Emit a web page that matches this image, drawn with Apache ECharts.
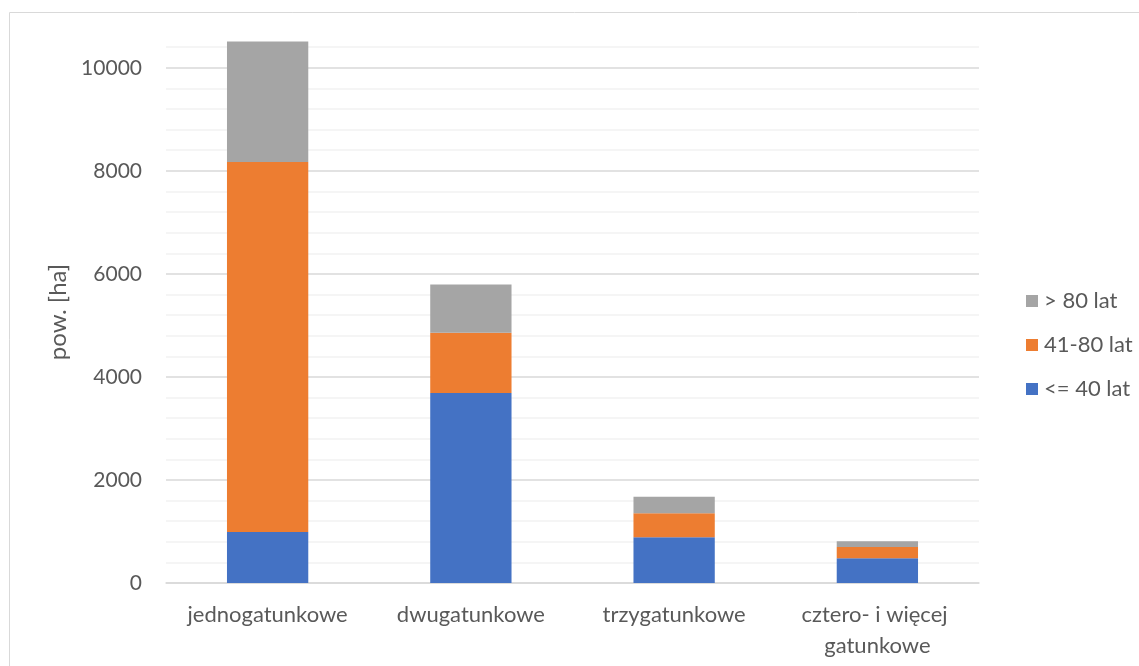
<!DOCTYPE html>
<html>
<head>
<meta charset="utf-8">
<script src="https://cdn.jsdelivr.net/npm/echarts@6/dist/echarts.min.js"></script>
<style>
  html, body { margin: 0; padding: 0; background: #fff; }
  #chart { width: 1139px; height: 666px; }
</style>
</head>
<body>
<div id="chart"></div>
<script>
const categories = ["jednogatunkowe", "dwugatunkowe", "trzygatunkowe", "cztero- i więcej gatunkowe"];
const young = [990, 3690, 890, 480];    // <= 40 lat
const middle = [7180, 1165, 465, 220];  // 41-80 lat
const old = [2340, 940, 320, 110];      // > 80 lat
const yMax = 10520;
const yStep = 400;
const labelStep = 2000;

const textColor = "#595959";
const font = "Lato";

// grid line colours: darker at labelled values, lighter between, none at the top edge
const tickCount = Math.floor(yMax / yStep) + 2;
const gridColors = [];
for (let i = 0; i < tickCount; i++) {
    if (i === tickCount - 1) gridColors.push("rgba(0,0,0,0)");
    else gridColors.push((i * yStep) % labelStep === 0 ? "#d9d9d9" : "#f2f2f2");
}

const chart = echarts.init(document.getElementById("chart"));
const option = {
    animation: false,
    textStyle: { fontFamily: font },
    graphic: [{
        type: "rect",
        shape: { x: 9.5, y: 12.5, width: 1300, height: 900 },
        style: { fill: "none", stroke: "#d9d9d9", lineWidth: 1 },
        silent: true
    }],
    grid: { left: 166, right: 160, top: 41, bottom: 83 },
    legend: {
        orient: "vertical",
        left: 1021,
        top: 285,
        itemWidth: 12,
        itemHeight: 12,
        itemGap: 22,
        icon: "rect",
        data: ["> 80 lat", "41-80 lat", "<= 40 lat"],
        textStyle: { color: textColor, fontSize: 22, fontFamily: font, padding: [0, 0, 0, 1] }
    },
    xAxis: {
        type: "category",
        data: categories,
        axisLine: { lineStyle: { color: "#d9d9d9", width: 1.5 } },
        axisTick: { show: false },
        axisLabel: {
            color: textColor,
            fontSize: 22,
            fontFamily: font,
            margin: 16,
            width: 195,
            overflow: "break",
            lineHeight: 31,
            interval: 0
        }
    },
    yAxis: {
        type: "value",
        min: 0,
        max: yMax,
        interval: yStep,
        name: "pow. [ha]",
        nameLocation: "middle",
        nameGap: 92,
        nameTextStyle: { color: textColor, fontSize: 24, fontFamily: font },
        axisLine: { show: false },
        axisTick: { show: false },
        axisLabel: {
            color: textColor,
            fontSize: 21,
            fontFamily: font,
            margin: 24,
            showMaxLabel: false,
            formatter: v => (v % labelStep === 0 ? String(v) : "")
        },
        splitLine: { lineStyle: { color: gridColors, width: 1.5 } }
    },
    series: [
        { name: "<= 40 lat", type: "bar", stack: "a", barWidth: "40%", data: young, itemStyle: { color: "#4472C4" } },
        { name: "41-80 lat", type: "bar", stack: "a", data: middle, itemStyle: { color: "#ED7D31" } },
        { name: "> 80 lat", type: "bar", stack: "a", data: old, itemStyle: { color: "#A5A5A5" } }
    ]
};
chart.setOption(option);
</script>
</body>
</html>
